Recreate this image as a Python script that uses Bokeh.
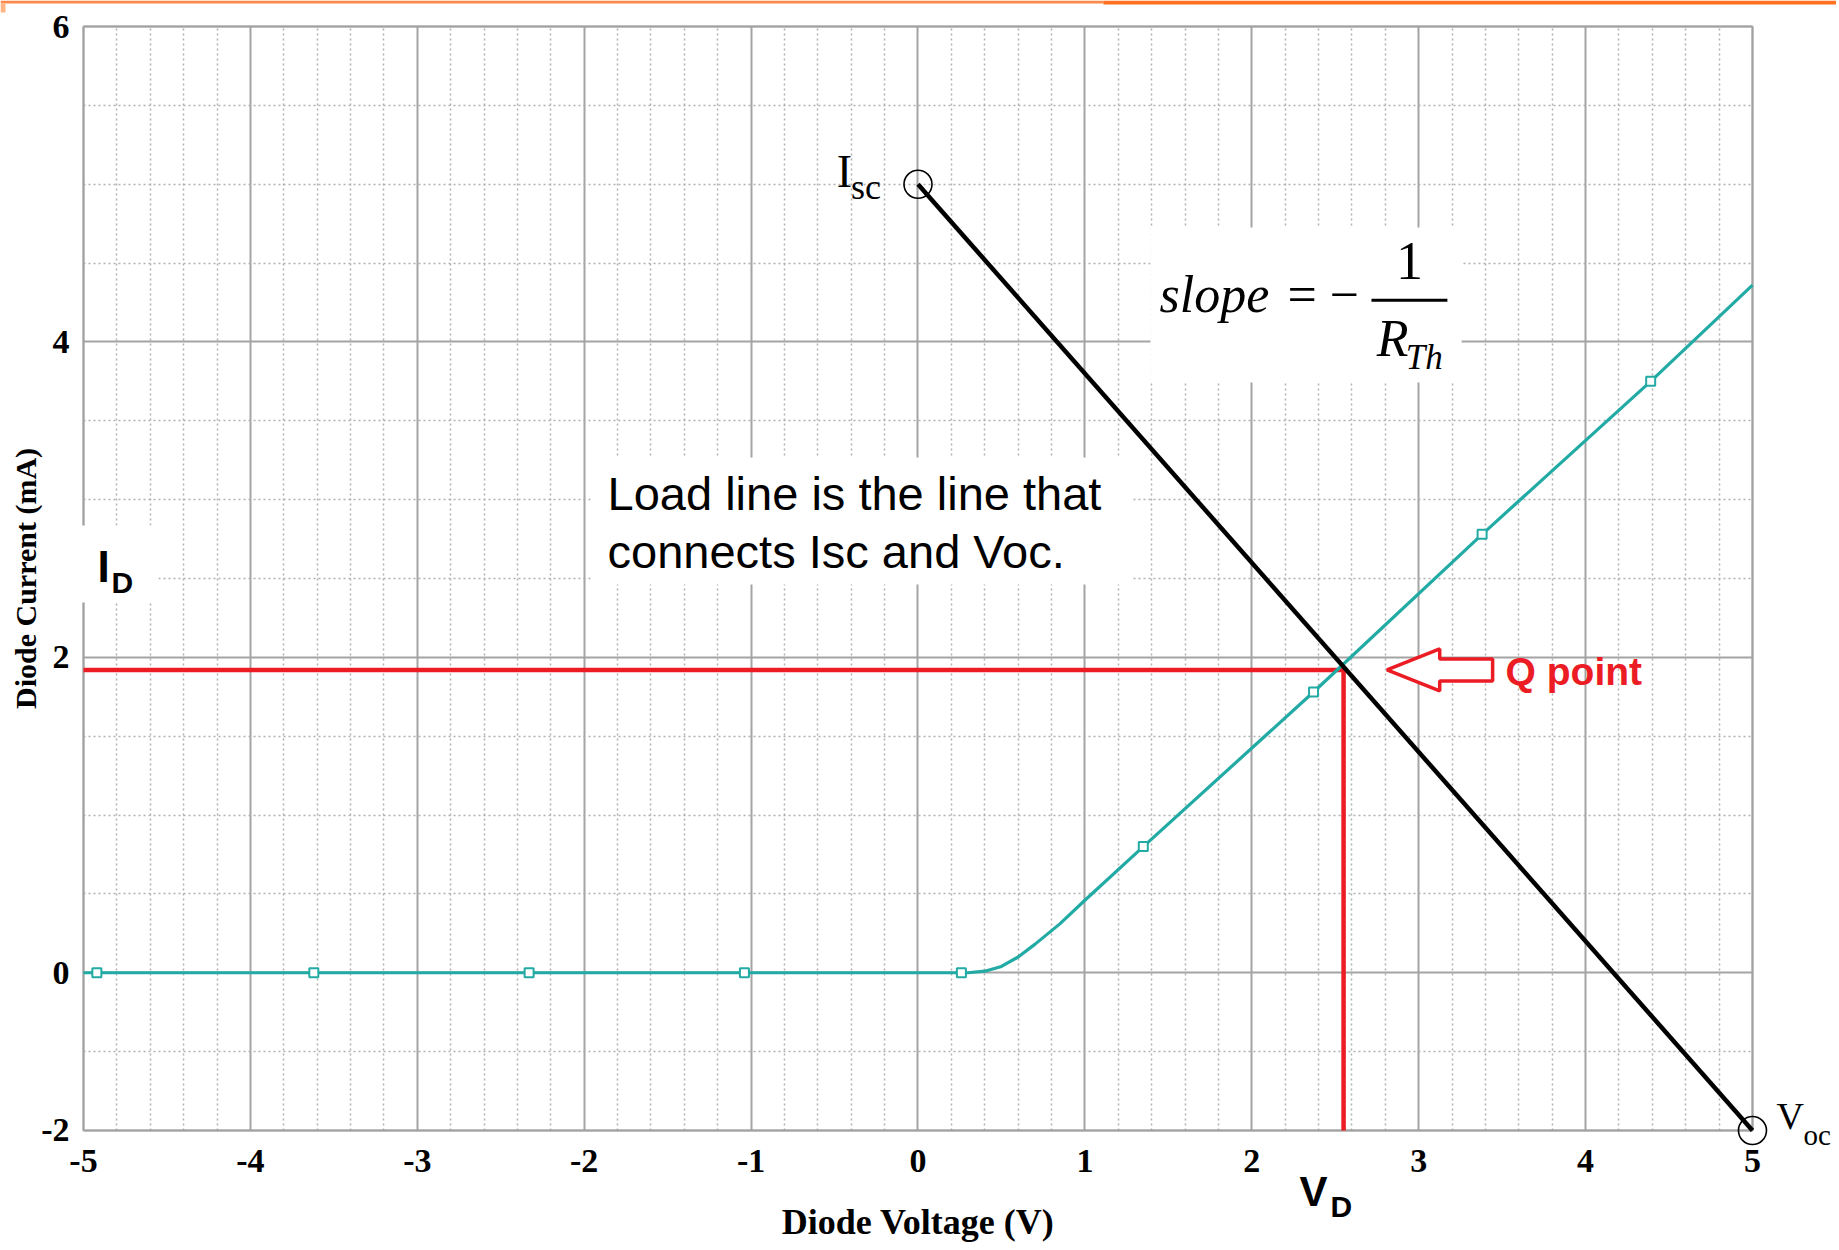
from bokeh.plotting import figure
from bokeh.models import Range1d, FixedTicker, BoxAnnotation, PolyAnnotation
from bokeh.core.properties import value
from bokeh.embed import file_html
from bokeh.resources import INLINE

# ---------------- data ----------------
# diode characteristic (V, mA)
diode_v = [-5.00, 0.30, 0.40, 0.50, 0.60, 0.70, 0.85, 1.00, 1.35, 2.37, 3.38, 4.39, 5.00]
diode_i = [0.00, 0.00, 0.01, 0.04, 0.10, 0.18, 0.31, 0.46, 0.80, 1.78, 2.78, 3.75, 4.36]
# PSpice trace markers
marker_v = [-4.92, -3.62, -2.33, -1.04, 0.26, 1.35, 2.37, 3.38, 4.39]
marker_i = [0.00, 0.00, 0.00, 0.00, 0.00, 0.80, 1.78, 2.78, 3.75]
# load line: Isc -> Voc (bottom edge of the plot is at -1 and is labelled "-2")
load_v = [0.0, 5.0]
load_i = [5.0, -1.0]
end_v = [0.0, 5.0]
end_i = [5.0, -1.0]
# Q point
q_v = 2.55
q_i = 1.92

x_ticks = [-5, -4, -3, -2, -1, 0, 1, 2, 3, 4, 5]
x_tick_labels = ["-5", "-4", "-3", "-2", "-1", "0", "1", "2", "3", "4", "5"]
x_minor = [round(-5 + 0.2 * k, 1) for k in range(51) if k % 5 != 0]
y_ticks = [-1, 0, 2, 4, 6]
y_tick_labels = ["-2", "0", "2", "4", "6"]
y_minor = [-0.5, 0.5, 1.0, 1.5, 2.5, 3.0, 3.5, 4.5, 5.0, 5.5]

X_MIN, X_MAX = -5, 5
Y_MIN, Y_MAX = -1, 6

# ---------------- styles ----------------
TEAL = "#22aaa4"
RED = "#ec1c24"
GRID = "#a4a4a4"
SERIF = "Liberation Serif"
SANS = "Liberation Sans"

# the frame covers the whole canvas; the plot box is drawn at [-5,5]x[-1,6]
X0, X1 = -5.4973, 5.5034
Y0, Y1 = -1.7357, 6.1649
p = figure(width=1836, height=1246, output_backend="svg", toolbar_location=None,
           x_range=Range1d(X0, X1), y_range=Range1d(Y0, Y1),
           min_border_left=0, min_border_right=0, min_border_top=0,
           min_border_bottom=0)
p.background_fill_color = "white"
p.border_fill_color = "white"
p.outline_line_color = None

xt = FixedTicker(ticks=x_ticks, minor_ticks=x_minor)
yt = FixedTicker(ticks=y_ticks, minor_ticks=y_minor)
p.xaxis.ticker = xt
p.yaxis.ticker = yt
p.xgrid.ticker = xt
p.ygrid.ticker = yt
p.xaxis.major_label_overrides = dict(zip(x_ticks, x_tick_labels))
p.yaxis.major_label_overrides = dict(zip(y_ticks, y_tick_labels))
p.xaxis.fixed_location = Y_MIN
p.yaxis.fixed_location = X_MIN
p.xaxis.bounds = (X_MIN, X_MAX)
p.yaxis.bounds = (Y_MIN, Y_MAX)

p.xgrid.bounds = (X_MIN, X_MAX)
p.xgrid.cross_bounds = (Y_MIN, Y_MAX)
p.ygrid.bounds = (Y_MIN, Y_MAX)
p.ygrid.cross_bounds = (X_MIN, X_MAX)
for g in (p.xgrid, p.ygrid):
    g.grid_line_color = GRID
    g.grid_line_width = 2
    g.minor_grid_line_color = "#b0b0b0"
    g.minor_grid_line_width = 1.5
    g.minor_grid_line_dash = "2 3"

for ax in (p.xaxis, p.yaxis):
    ax.axis_line_color = None
    ax.major_tick_line_color = None
    ax.minor_tick_line_color = None
    ax.major_tick_out = 0
    ax.major_tick_in = 0
    ax.minor_tick_out = 0
    ax.minor_tick_in = 0
    ax.major_label_text_font = SERIF
    ax.major_label_text_font_style = "bold"
    ax.major_label_text_font_size = "34px"
    ax.major_label_text_color = "black"
    ax.axis_label_text_font = SERIF
    ax.axis_label_text_font_style = "bold"
    ax.axis_label_text_color = "black"

p.xaxis.axis_label = "Diode Voltage (V)"
p.xaxis.axis_label_text_font_size = "36px"
p.xaxis.major_label_standoff = 20
p.xaxis.axis_label_standoff = 26
p.yaxis.axis_label = "Diode Current (mA)"
p.yaxis.axis_label_text_font_size = "30px"
p.yaxis.major_label_standoff = 14
p.yaxis.axis_label_standoff = -4

# slide decoration along the top edge
p.add_layout(BoxAnnotation(right=1.111, bottom=6.146, fill_color="#ff8a4c",
                           fill_alpha=1.0, line_color=None))
p.add_layout(BoxAnnotation(left=1.111, bottom=6.1395, fill_color="#ff7020",
                           fill_alpha=1.0, line_color=None))
p.add_layout(BoxAnnotation(right=X0 + 0.03, bottom=6.0888, top=6.1459,
                           fill_color="#ffb584", fill_alpha=1.0, line_color=None))

# plot box
p.add_layout(BoxAnnotation(left=X_MIN, right=X_MAX, bottom=Y_MIN, top=Y_MAX,
                           fill_alpha=0, line_color="#999999", line_width=3,
                           level="underlay"))
# white boxes behind annotation texts
for (l, r, b, t) in [(-1.950, 1.285, 2.462, 3.267), (1.393, 3.257, 3.743, 4.725),
                     (-5.018, -4.551, 2.348, 2.836)]:
    p.add_layout(BoxAnnotation(left=l, right=r, bottom=b, top=t, fill_color="white",
                               fill_alpha=1.0, line_color=None, level="underlay"))

# Q-point guide lines
p.line(x=[X_MIN, q_v], y=[q_i, q_i], line_color=RED, line_width=4.5)
p.line(x=[q_v, q_v], y=[q_i, Y_MIN], line_color=RED, line_width=4.5)

# diode curve
p.line(x=diode_v, y=diode_i, line_color=TEAL, line_width=3.2)
p.scatter(x=marker_v, y=marker_i, marker="square", size=9, fill_color="white",
          line_color=TEAL, line_width=2)

# load line
p.line(x=load_v, y=load_i, line_color="black", line_width=4.5)
p.scatter(x=end_v, y=end_i, marker="circle", size=28, fill_color=None,
          line_color="black", line_width=1.6)

# Q-point arrow (hollow, pointing at Q)
tip, head_back, tail = 0.26, 0.576, 0.893
head_h, shaft_h = 0.133, 0.07
arrow_x = [q_v + tip, q_v + head_back, q_v + head_back, q_v + tail, q_v + tail,
           q_v + head_back, q_v + head_back]
arrow_y = [q_i, q_i + head_h, q_i + shaft_h, q_i + shaft_h, q_i - shaft_h,
           q_i - shaft_h, q_i - head_h]
p.add_layout(PolyAnnotation(xs=arrow_x, ys=arrow_y, fill_color="white", fill_alpha=1.0,
                            line_color=RED, line_alpha=1.0, line_width=3.5))


def txt(x, y, s, font=SERIF, size=40, style="normal", color="black",
        align="left", dx=0, dy=0):
    # the text box sits ~0.37em below the requested baseline; compensate
    shift = dy + 0.37 * size
    p.text(x=[x], y=[y], text=[s], text_font=value(font),
           text_font_size=value(f"{size}px"),
           text_font_style=style, text_color=color, text_align=align,
           text_baseline="alphabetic", x_offset=dx, y_offset=-shift)


txt(q_v, q_i, "Q point", font=SANS, size=39, style="bold", color=RED, dx=162, dy=-16)

# Isc / Voc labels
txt(end_v[0], end_i[0], "I", size=46, align="right", dx=-66, dy=-4)
txt(end_v[0], end_i[0], "sc", size=36, align="right", dx=-37, dy=-16)
txt(end_v[1], end_i[1], "V", size=38, dx=24, dy=0)
txt(end_v[1], end_i[1], "oc", size=29, dx=51, dy=-15)

# V_D / I_D labels
txt(q_v, Y_MIN, "V", font=SANS, size=42, style="bold", dx=-44, dy=-77)
txt(q_v, Y_MIN, "D", font=SANS, size=30, style="bold", dx=-13, dy=-87)
txt(-4.916, 2.475, "I", font=SANS, size=44, style="bold")
txt(-4.832, 2.405, "D", font=SANS, size=30, style="bold")

# load line note
txt(-1.860, 2.931, "Load line is the line that", font=SANS, size=47)
txt(-1.860, 2.563, "connects Isc and Voc.", font=SANS, size=47)

# slope formula
txt(1.447, 4.180, "slope", size=52, style="italic")
txt(2.214, 4.180, "=", size=52)
txt(2.466, 4.180, "\u2212", size=52)
txt(2.945, 4.389, "1", size=54, align="center")
p.add_layout(BoxAnnotation(left=2.717, right=3.172, bottom=4.254, top=4.273,
                           fill_color="black", fill_alpha=1.0, line_color=None))
txt(2.748, 3.901, "R", size=52, style="italic")
txt(2.922, 3.819, "Th", size=35, style="italic")

open("out.html", "w").write(file_html(p, INLINE))
